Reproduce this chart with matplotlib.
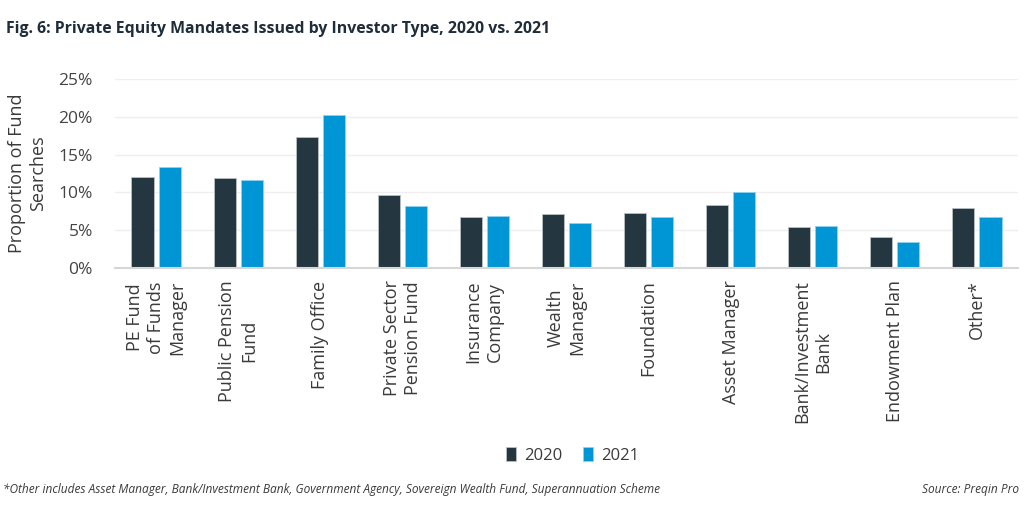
import numpy as np
import matplotlib
matplotlib.use('Agg')
import matplotlib.pyplot as plt

plt.rcParams['font.family'] = ['Open Sans', 'DejaVu Sans']

# data (percent of fund searches)
categories = ['PE Fund\nof Funds\nManager', 'Public Pension\nFund', 'Family Office',
              'Private Sector\nPension Fund', 'Insurance\nCompany', 'Wealth\nManager',
              'Foundation', 'Asset Manager', 'Bank/Investment\nBank', 'Endowment Plan',
              'Other*']
values_2020 = [12.0, 11.9, 17.3, 9.7, 6.8, 7.2, 7.3, 8.3, 5.4, 4.1, 7.9]
values_2021 = [13.3, 11.6, 20.2, 8.2, 6.9, 6.0, 6.7, 10.1, 5.5, 3.4, 6.8]
yticks = [0, 5, 10, 15, 20, 25]

dark = '#243640'
blue = '#0096d6'
text_col = '#3a3a3a'

fig = plt.figure(figsize=(10.24, 5.12), dpi=100)
ax = fig.add_axes([0.1123, 0.4766, 0.8818, 0.3691])

x = np.arange(len(categories))
w = 0.27
off = 0.165
ax.bar(x - off, values_2020, w, color=dark, edgecolor='#b9c0c4', linewidth=0.6, label='2020', zorder=3)
ax.bar(x + off, values_2021, w, color=blue, edgecolor='#8fd0f0', linewidth=0.6, label='2021', zorder=3)

ax.set_xlim(-0.5, len(categories) - 0.5)
ax.set_ylim(0, 25)
ax.set_yticks(yticks)
ax.set_yticklabels([f'{t}%' for t in yticks], fontsize=12.5, color='#444444')
ax.grid(axis='y', color='#efefef', linewidth=1, zorder=0)
ax.tick_params(axis='y', length=0, pad=16)
ax.tick_params(axis='x', length=0, pad=9)

for s in ['top', 'right', 'left']:
    ax.spines[s].set_visible(False)
ax.spines['bottom'].set_color('#d6d6d6')
ax.spines['bottom'].set_linewidth(1.5)
ax.spines['bottom'].set_zorder(4)

ax.set_xticks(x)
ax.set_xticklabels(categories, rotation=90, fontsize=13, color=text_col,
                   ha='center', va='top', multialignment='center', linespacing=1.25)

ax.set_ylabel('Proportion of Fund\nSearches', fontsize=13, color=text_col, linespacing=1.25)
ax.yaxis.set_label_coords(-0.075, 0.5)

fig.text(0.006, 0.943, 'Fig. 6: Private Equity Mandates Issued by Investor Type, 2020 vs. 2021',
         fontsize=11.4, fontweight='bold', color='#1f2d3a', ha='left', va='center')

fig.legend(loc='center', bbox_to_anchor=(0.559, 0.111), ncol=2, frameon=False,
           fontsize=12, handlelength=0.6, handleheight=0.9, handletextpad=0.5,
           columnspacing=1.2, labelcolor=text_col)

fig.text(0.003, 0.043, '*Other includes Asset Manager, Bank/Investment Bank, Government Agency, '
         'Sovereign Wealth Fund, Superannuation Scheme',
         fontsize=8.6, style='italic', color=text_col, ha='left', va='center')
fig.text(0.995, 0.043, 'Source: Preqin Pro', fontsize=8.6, style='italic', color=text_col,
         ha='right', va='center')

fig.savefig('out.png', dpi=100)
